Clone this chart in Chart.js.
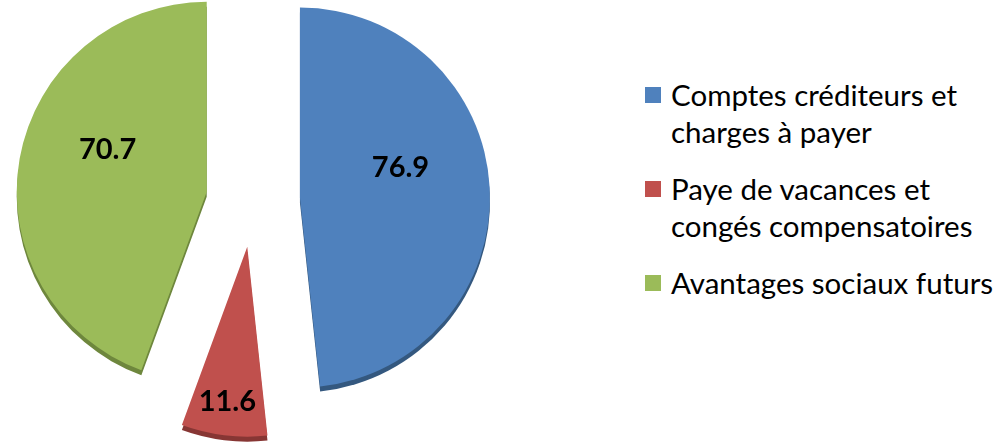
<!DOCTYPE html>
<html lang="fr">
<head>
<meta charset="utf-8">
<script src="https://cdn.jsdelivr.net/npm/chart.js@4.4.1/dist/chart.umd.min.js"></script>
<style>
  html, body { margin: 0; padding: 0; background: #fff; }
  #wrap { position: relative; width: 999px; height: 444px; overflow: hidden; }
  #pie { position: absolute; left: 0; top: 0; }
  #legend { position: absolute; left: 645px; top: 76px; font-family: Lato, sans-serif; font-size: 29.5px; color: #000; }
  .item { display: flex; align-items: flex-start; margin-bottom: 20px; line-height: 37px; }
  .box { width: 16px; height: 16px; margin-top: 11px; margin-right: 10px; flex: none; }
  .txt div { white-space: nowrap; }
</style>
</head>
<body>
<div id="wrap">
  <canvas id="pie" width="506" height="444"></canvas>
  <div id="legend"></div>
</div>
<script>
const labels = [
  ['Comptes créditeurs et', 'charges à payer'],
  ['Paye de vacances et', 'congés compensatoires'],
  ['Avantages sociaux futurs']
];
const values = [76.9, 11.6, 70.7];
const colors = ['#4F81BD', '#C0504D', '#9BBB59'];
const sideColors = ['#34587F', '#873634', '#6E873D'];

const EXPLODE = 47;   // how far each slice is pulled out (px)
const DEPTH = 5;      // fake 3D thickness

function explodeVec(arc) {
  const { startAngle, endAngle } = arc.getProps(['startAngle', 'endAngle'], true);
  const mid = (startAngle + endAngle) / 2;
  return { dx: Math.cos(mid) * EXPLODE, dy: Math.sin(mid) * EXPLODE };
}

// --- exploded 3D pie: rim first, then the faces, each slice pulled out ---
const exploded3d = {
  id: 'exploded3d',
  beforeDatasetDraw(chart, args) {
    const ctx = chart.ctx;
    const arcs = args.meta.data;
    arcs.forEach((arc, i) => {
      const { dx, dy } = explodeVec(arc);
      const orig = arc.options;
      arc.options = Object.assign({}, orig, { backgroundColor: sideColors[i] });
      ctx.save();
      ctx.translate(dx, dy + DEPTH);
      arc.draw(ctx);
      ctx.restore();
      arc.options = orig;
    });
    arcs.forEach((arc) => {
      const { dx, dy } = explodeVec(arc);
      ctx.save();
      ctx.translate(dx, dy);
      arc.draw(ctx);
      ctx.restore();
    });
    return false;
  }
};

// --- value labels inside the slices ---
const valueLabels = {
  id: 'valueLabels',
  afterDatasetsDraw(chart) {
    const ctx = chart.ctx;
    ctx.save();
    ctx.font = 'bold 29px Lato, sans-serif';
    ctx.textAlign = 'center';
    ctx.textBaseline = 'middle';
    ctx.fillStyle = '#000';
    chart.getDatasetMeta(0).data.forEach((arc, i) => {
      const { x, y, startAngle, endAngle, outerRadius: r } =
        arc.getProps(['x', 'y', 'startAngle', 'endAngle', 'outerRadius'], true);
      const mid = (startAngle + endAngle) / 2;
      const span = endAngle - startAngle;
      const text = values[i].toFixed(1);
      const w = ctx.measureText(text).width;
      // narrow slices push the label out to where it fits
      let d = Math.max(0.53 * r, (w + 20) / (2 * Math.sin(Math.min(span, Math.PI) / 2)));
      d = Math.min(d, 0.86 * r);
      const lx = x + Math.cos(mid) * (EXPLODE + d);
      const ly = y + Math.sin(mid) * (EXPLODE + d) - (r - d) * 0.27;
      ctx.fillText(text, lx, ly);
    });
    ctx.restore();
  }
};

const chart = new Chart(document.getElementById('pie'), {
  type: 'pie',
  data: {
    labels: labels,
    datasets: [{
      data: values,
      backgroundColor: colors,
      borderWidth: 0,
      radius: 190
    }]
  },
  options: {
    responsive: false,
    animation: false,
    events: [],
    layout: { padding: { bottom: 44 } },
    plugins: { legend: { display: false }, tooltip: { enabled: false } }
  },
  plugins: [exploded3d, valueLabels]
});

// --- HTML legend ---
document.getElementById('legend').innerHTML = chart.data.labels.map((lab, i) => `
  <div class="item">
    <span class="box" style="background:${colors[i]}"></span>
    <div class="txt">${lab.map(l => `<div>${l}</div>`).join('')}</div>
  </div>
`).join('');
</script>
</body>
</html>
